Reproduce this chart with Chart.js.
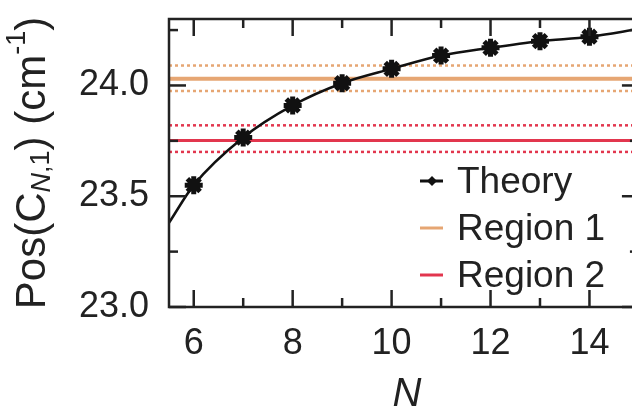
<!DOCTYPE html>
<html>
<head>
<meta charset="utf-8">
<script src="https://cdn.jsdelivr.net/npm/chart.js@4.4.0/dist/chart.umd.min.js"></script>
<style>
html, body { margin: 0; padding: 0; background: #fff; overflow: hidden; }
#wrap { width: 632px; height: 411px; }
</style>
</head>
<body>
<div id="wrap"><canvas id="posChart" width="632" height="411"></canvas></div>
<script>
// values
const nValues = [6, 7, 8, 9, 10, 11, 12, 13, 14];
const theoryPos = [23.55, 23.765, 23.91, 24.01, 24.075, 24.135, 24.17, 24.2, 24.22];
// the drawn theory curve: same points plus where it meets the frame
const curveN = [5.5, 6, 7, 8, 9, 10, 11, 12, 13, 14, 15];
const curvePos = [23.38, 23.55, 23.765, 23.91, 24.01, 24.075, 24.135, 24.17, 24.2, 24.22, 24.255];

const region1Mean = 24.03;
const region1Bounds = [23.975, 24.09];
const region2Mean = 23.752;
const region2Bounds = [23.70, 23.82];

// the original frame runs 5.5..15, but the picture is cropped just before 15
const xRange = [5.5, 15];
const xVisibleMax = 14.86;
const yRange = [23.0, 24.3];
const xMajor = [6, 8, 10, 12, 14];
const xMinor = [7, 9, 11, 13];
const yMajor = [23.0, 23.5, 24.0];
const yMinor = [23.25, 23.75, 24.25];

const orange = '#e6a673';
const red = '#e2364e';
const ink = '#222';
const fontName = '"Liberation Sans", Arial, sans-serif';

function hLine(y) {
	return [{ x: xRange[0], y: y }, { x: xRange[1], y: y }];
}

const lineBase = { showLine: true, pointRadius: 0, order: 5 };

const datasets = [
	{ ...lineBase, label: 'Region 1', data: hLine(region1Mean), borderColor: orange, borderWidth: 4 },
	{ ...lineBase, label: 'r1 low', data: hLine(region1Bounds[0]), borderColor: orange, borderWidth: 2.5, borderDash: [3, 3] },
	{ ...lineBase, label: 'r1 high', data: hLine(region1Bounds[1]), borderColor: orange, borderWidth: 2.5, borderDash: [3, 3] },
	{ ...lineBase, label: 'Region 2', data: hLine(region2Mean), borderColor: red, borderWidth: 3 },
	{ ...lineBase, label: 'r2 low', data: hLine(region2Bounds[0]), borderColor: red, borderWidth: 2.5, borderDash: [3, 3] },
	{ ...lineBase, label: 'r2 high', data: hLine(region2Bounds[1]), borderColor: red, borderWidth: 2.5, borderDash: [3, 3] },
	{
		label: 'curve',
		data: curveN.map((n, i) => ({ x: n, y: curvePos[i] })),
		showLine: true, borderColor: '#111', borderWidth: 2.5, pointRadius: 0,
		cubicInterpolationMode: 'monotone', order: 2
	},
	{
		label: 'Theory',
		data: nValues.map((n, i) => ({ x: n, y: theoryPos[i] })),
		showLine: false, pointStyle: 'star', pointRadius: 9,
		borderColor: '#111', backgroundColor: '#111', pointBorderWidth: 5, order: 1
	}
];

// legend entries, drawn inside the plot
const legendItems = [
	{ text: 'Theory', color: '#111', dot: true },
	{ text: 'Region 1', color: orange },
	{ text: 'Region 2', color: red }
];

const framePlugin = {
	id: 'frame',
	afterDatasetsDraw(chart) {
		const ctx = chart.ctx;
		const a = chart.chartArea;
		const xs = chart.scales.x;
		const ys = chart.scales.y;
		const right = xs.getPixelForValue(xRange[1]);
		ctx.save();
		ctx.strokeStyle = ink;
		ctx.lineWidth = 2.5;
		ctx.strokeRect(a.left, a.top, right - a.left, a.bottom - a.top);

		// inward ticks on all four sides
		const tick = (x1, y1, x2, y2) => {
			ctx.beginPath(); ctx.moveTo(x1, y1); ctx.lineTo(x2, y2); ctx.stroke();
		};
		xMajor.forEach(v => { const p = xs.getPixelForValue(v); tick(p, a.bottom, p, a.bottom - 17); tick(p, a.top, p, a.top + 17); });
		xMinor.forEach(v => { const p = xs.getPixelForValue(v); tick(p, a.bottom, p, a.bottom - 9); tick(p, a.top, p, a.top + 9); });
		yMajor.forEach(v => { const p = ys.getPixelForValue(v); tick(a.left, p, a.left + 17, p); tick(right, p, right - 17, p); });
		yMinor.forEach(v => { const p = ys.getPixelForValue(v); tick(a.left, p, a.left + 9, p); tick(right, p, right - 9, p); });

		// legend
		ctx.font = '37px ' + fontName;
		ctx.textBaseline = 'middle';
		legendItems.forEach((item, i) => {
			const y = 181 + i * 47;
			ctx.strokeStyle = item.color;
			ctx.lineWidth = 3;
			tick(420, y, 443, y);
			if (item.dot) {
				ctx.fillStyle = item.color;
				ctx.beginPath();
				ctx.moveTo(432, y - 5); ctx.lineTo(437, y); ctx.lineTo(432, y + 5); ctx.lineTo(427, y);
				ctx.closePath(); ctx.fill();
			}
			ctx.fillStyle = ink;
			ctx.fillText(item.text, 457, y + 2);
		});

		// axis titles
		ctx.fillStyle = ink;
		ctx.font = 'italic 40px ' + fontName;
		ctx.textAlign = 'center';
		ctx.textBaseline = 'middle';
		ctx.fillText('N', 407, 395);

		ctx.translate(33, (a.top + a.bottom) / 2);
		ctx.rotate(-Math.PI / 2);
		const big = '42px ' + fontName;
		const small = '27px ' + fontName;
		const smallIt = 'italic 27px ' + fontName;
		const parts = [
			{ t: 'Pos(C', f: big, dy: 0 },
			{ t: 'N', f: smallIt, dy: 9 },
			{ t: ',1', f: small, dy: 9 },
			{ t: ') (cm', f: big, dy: 0 },
			{ t: '-1', f: small, dy: -15 },
			{ t: ')', f: big, dy: 0 }
		];
		let total = 0;
		parts.forEach(p => { ctx.font = p.f; total += ctx.measureText(p.t).width; });
		let x = -total / 2;
		ctx.textAlign = 'left';
		parts.forEach(p => {
			ctx.font = p.f;
			ctx.fillText(p.t, x, p.dy);
			x += ctx.measureText(p.t).width;
		});
		ctx.restore();
	}
};

const posChart = new Chart(document.getElementById('posChart'), {
	type: 'scatter',
	data: { datasets: datasets },
	options: {
		responsive: false,
		animation: false,
		layout: { autoPadding: false, padding: { left: 0, top: 19, right: 0, bottom: 0 } },
		plugins: { legend: { display: false }, tooltip: { enabled: false } },
		scales: {
			x: {
				type: 'linear',
				min: xRange[0], max: xVisibleMax,
				grid: { display: false, drawTicks: false },
				border: { display: false },
				afterBuildTicks: s => { s.ticks = xMajor.map(v => ({ value: v })); },
				afterFit: s => { s.height = 104; s.paddingLeft = 0; s.paddingRight = 0; },
				ticks: { color: ink, padding: 15, font: { size: 36, family: fontName }, callback: v => String(v) }
			},
			y: {
				type: 'linear',
				min: yRange[0], max: yRange[1],
				grid: { display: false, drawTicks: false },
				border: { display: false },
				afterBuildTicks: s => { s.ticks = yMajor.map(v => ({ value: v })); },
				afterFit: s => { s.width = 169; s.paddingTop = 0; s.paddingBottom = 0; },
				ticks: { color: ink, padding: 20, font: { size: 36, family: fontName }, callback: v => v.toFixed(1) }
			}
		}
	},
	plugins: [framePlugin]
});
</script>
</body>
</html>
